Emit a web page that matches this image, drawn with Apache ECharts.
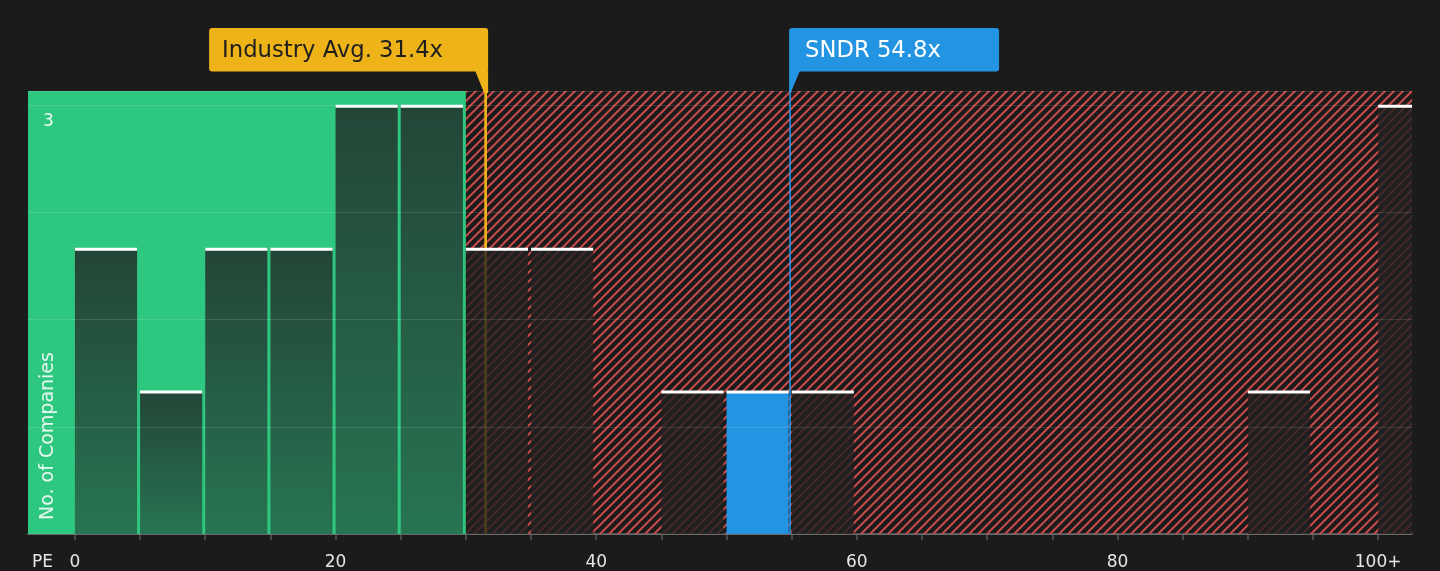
<!DOCTYPE html>
<html><head><meta charset="utf-8">
<style>html,body{margin:0;padding:0;background:#1b1b1b;}#c{width:1440px;height:571px;}</style>
<script src="https://cdn.jsdelivr.net/npm/echarts@6/dist/echarts.min.js"></script>
</head><body><div id="c"></div>
<script>
// ---- data ----
const binStarts = [0,5,10,15,20,25,30,35,40,45,50,55,60,65,70,75,80,85,90,95,100];
const companyCounts = [2,1,2,2,3,3,2,2,0,1,1,1,0,0,0,0,0,0,1,0,3];
const binWidth = 5;
const industryAvg = 31.4;
const sndrPE = 54.8;
const sndrBinStart = 50;
const fairZoneEnd = 30;
const xTickValues = [0,5,10,15,20,25,30,35,40,45,50,55,60,65,70,75,80,85,90,95,100];
const xLabelValues = [0,20,40,60,80,100];
const xLabelTexts = ['0','20','40','60','80','100+'];
const yLabelValues = [3];
const annotationNames = ['Industry Avg.', 'SNDR'];
const annotationValues = [industryAvg, sndrPE];
const xMin = -3.6, xMax = 102.6, yMax = 3.1;

const FONT = 'DejaVu Sans';
const GREEN = '#2ec77f', ORANGE = '#efb31a', BLUE = '#2394e1';

function hatchCanvas() {
  const s = 9;
  const c = document.createElement('canvas');
  c.width = s; c.height = s;
  const g = c.getContext('2d');
  g.strokeStyle = '#c94a4a';
  g.lineWidth = 2;
  g.beginPath();
  g.moveTo(-1, s + 1); g.lineTo(s + 1, -1);
  g.moveTo(-s / 2 - 1, s / 2 + 1); g.lineTo(s / 2 + 1, -s / 2 - 1);
  g.moveTo(s / 2 - 1, s * 1.5 + 1); g.lineTo(s * 1.5 + 1, s / 2 - 1);
  g.stroke();
  return c;
}
const hatch = hatchCanvas();

const regionData = [[xMin, fairZoneEnd, 0], [fairZoneEnd, xMax, 1]];
const barData = binStarts.map((s, i) => [s, s + binWidth, companyCounts[i]]).filter(d => d[2] > 0);
const annoData = annotationValues.map((v, i) => [v, i]);

const chart = echarts.init(document.getElementById('c'), null, {renderer: 'canvas'});
chart.setOption({
  backgroundColor: '#1b1b1b',
  animation: false,
  textStyle: {fontFamily: FONT},
  grid: {left: 28, right: 28, top: 91, bottom: 36, containLabel: false},
  xAxis: {
    type: 'value', min: xMin, max: xMax,
    splitLine: {show: false},
    axisLine: {show: true, lineStyle: {color: '#555', width: 2}},
    axisTick: {show: true, customValues: xTickValues, length: 6, lineStyle: {color: '#555', width: 1.5}},
    axisLabel: {
      customValues: xLabelValues, margin: 20, fontSize: 17, color: '#e6e6e6', fontFamily: FONT,
      formatter: v => xLabelTexts[xLabelValues.indexOf(v)] ?? ''
    }
  },
  yAxis: {
    type: 'value', min: 0, max: yMax, interval: 0.75, z: 10,
    axisLine: {show: false}, axisTick: {show: false},
    splitLine: {show: true, lineStyle: {color: 'rgba(255,255,255,0.12)', width: 1}},
    axisLabel: {
      inside: true, margin: 15, fontSize: 17, color: 'rgba(255,255,255,0.92)', fontFamily: FONT,
      verticalAlign: 'top', padding: [8, 0, 0, 0],
      formatter: v => yLabelValues.includes(v) ? String(v) : ''
    }
  },
  graphic: [
    {type: 'text', left: 32, top: 554, z: 100, style: {text: 'PE', fontSize: 17, fill: '#e6e6e6', fontFamily: FONT}},
    {type: 'text', x: 48, y: 520, rotation: Math.PI / 2, z: 100,
      style: {text: 'No. of Companies', fontSize: 19, fill: 'rgba(255,255,255,0.88)', fontFamily: FONT, align: 'left', verticalAlign: 'middle'}}
  ],
  series: [
    {
      type: 'custom', name: 'zones', z: 1, clip: true, silent: true,
      data: regionData,
      renderItem: (params, api) => {
        const p0 = api.coord([api.value(0), yMax]);
        const p1 = api.coord([api.value(1), 0]);
        const kind = api.value(2);
        return {
          type: 'rect',
          shape: {x: p0[0], y: p0[1], width: p1[0] - p0[0], height: p1[1] - p0[1]},
          style: {fill: kind === 0 ? GREEN : {image: hatch, repeat: 'repeat'}}
        };
      }
    },
    {
      type: 'custom', name: 'annotations', z: 2, clip: false, silent: true,
      data: annoData,
      renderItem: (params, api) => {
        const v = api.value(0), idx = api.value(1);
        const top = api.coord([v, yMax]), bot = api.coord([v, 0]);
        const x = top[0], yT = top[1], yB = bot[1];
        const boxTop = yT - 63, boxH = 43.5, boxBot = boxTop + boxH;
        const label = annotationNames[idx] + ' ' + v + 'x';
        if (idx === 0) {
          const boxW = 279, right = x + 4;
          return {type: 'group', children: [
            {type: 'line', shape: {x1: x + 1.5, y1: yT, x2: x + 1.5, y2: yB}, style: {stroke: ORANGE, lineWidth: 2.7}},
            {type: 'rect', shape: {x: right - boxW, y: boxTop, width: boxW, height: boxH, r: 3}, style: {fill: ORANGE}},
            {type: 'polygon', shape: {points: [[x - 9, boxBot - 1], [right, boxBot - 1], [right, yT + 2], [x, yT + 2]]}, style: {fill: ORANGE}},
            {type: 'text', x: right - boxW + 13, y: boxTop + boxH / 2 + 1,
              style: {text: label, fontSize: 22.7, fill: '#1e1e1e', fontFamily: FONT, verticalAlign: 'middle', align: 'left'}}
          ]};
        } else {
          const boxW = 210, left = x;
          return {type: 'group', children: [
            {type: 'line', shape: {x1: x + 1, y1: yT, x2: x + 1, y2: yB}, style: {stroke: BLUE, lineWidth: 1.6}},
            {type: 'rect', shape: {x: left, y: boxTop, width: boxW, height: boxH, r: 3}, style: {fill: BLUE}},
            {type: 'polygon', shape: {points: [[left, boxBot - 1], [left + 11, boxBot - 1], [left + 1.5, yT + 2], [left, yT + 2]]}, style: {fill: BLUE}},
            {type: 'text', x: left + 16, y: boxTop + boxH / 2 + 1,
              style: {text: label, fontSize: 22.7, fill: '#ffffff', fontFamily: FONT, verticalAlign: 'middle', align: 'left'}}
          ]};
        }
      }
    },
    {
      type: 'custom', name: 'companies', z: 3, clip: true,
      data: barData,
      renderItem: (params, api) => {
        const s = api.value(0), e = api.value(1), n = api.value(2);
        const p0 = api.coord([s, n]), p1 = api.coord([e, 0]);
        const x = p0[0], w = p1[0] - p0[0] - 3, y = p0[1], h = p1[1] - p0[1];
        let fill;
        if (s === sndrBinStart) fill = BLUE;
        else if (e <= fairZoneEnd) fill = new echarts.graphic.LinearGradient(0, 0, 0, 1, [
          {offset: 0, color: '#234537'}, {offset: 1, color: '#277452'}]);
        else fill = 'rgba(34,32,32,0.8)';
        return {type: 'group', children: [
          {type: 'rect', shape: {x: x, y: y, width: w, height: h}, style: {fill: fill}},
          {type: 'rect', shape: {x: x, y: y - 0.5, width: w, height: 3}, style: {fill: '#ffffff'}}
        ]};
      }
    }
  ]
});
</script>
</body></html>
